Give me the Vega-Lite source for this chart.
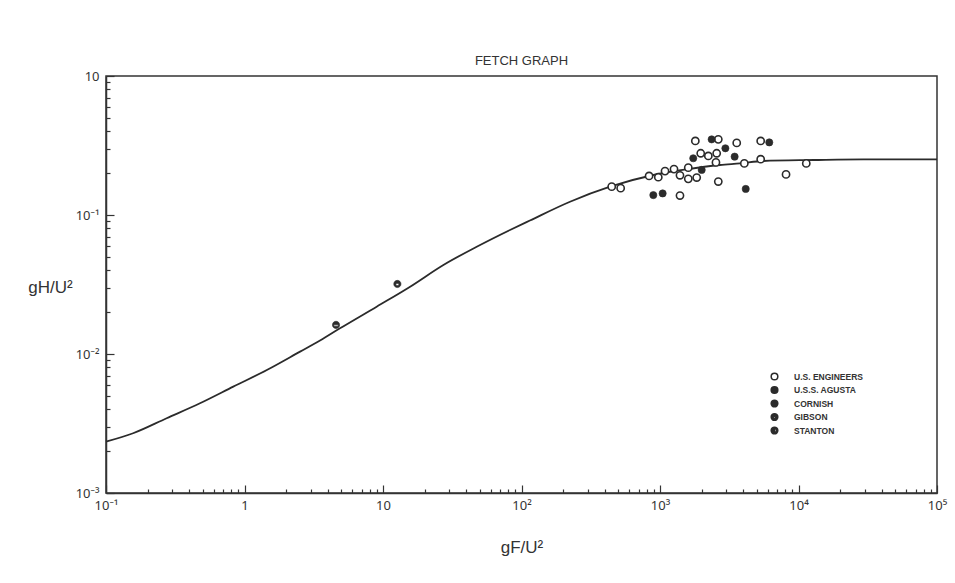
{
  "$schema": "https://vega.github.io/schema/vega-lite/v6.json",
  "width": 831,
  "height": 417,
  "autosize": {"type": "none"},
  "padding": {"left": 106, "top": 76, "right": 18, "bottom": 90},
  "background": "white",
  "title": {"text": "FETCH GRAPH", "fontSize": 13, "fontWeight": "normal", "font": "Liberation Sans", "color": "#333", "offset": 2},
  "config": {"view": {"stroke": "#333", "strokeWidth": 1.5}},
  "datasets": {
    "curve": [
      {"F": 0.1, "H": 0.00234},
      {"F": 0.157, "H": 0.00269},
      {"F": 0.274, "H": 0.00345},
      {"F": 0.477, "H": 0.00442},
      {"F": 0.83, "H": 0.00582},
      {"F": 1.45, "H": 0.00767},
      {"F": 2.52, "H": 0.0104},
      {"F": 3.51, "H": 0.0125},
      {"F": 4.89, "H": 0.0153},
      {"F": 9.0, "H": 0.0219},
      {"F": 15.7, "H": 0.0305},
      {"F": 27.3, "H": 0.0437},
      {"F": 47.5, "H": 0.0591},
      {"F": 82.6, "H": 0.078},
      {"F": 115, "H": 0.0913},
      {"F": 224, "H": 0.1246},
      {"F": 436, "H": 0.1598},
      {"F": 895, "H": 0.194},
      {"F": 1559, "H": 0.2132},
      {"F": 2712, "H": 0.2289},
      {"F": 3781, "H": 0.2354},
      {"F": 5569, "H": 0.2446},
      {"F": 12790, "H": 0.2487},
      {"F": 29380, "H": 0.2516},
      {"F": 100000, "H": 0.2516}
    ],
    "obs": [
      {"F": 448, "H": 0.16, "src": "U.S. ENGINEERS"},
      {"F": 520, "H": 0.156, "src": "U.S. ENGINEERS"},
      {"F": 834, "H": 0.191, "src": "U.S. ENGINEERS"},
      {"F": 972, "H": 0.187, "src": "U.S. ENGINEERS"},
      {"F": 1087, "H": 0.207, "src": "U.S. ENGINEERS"},
      {"F": 1262, "H": 0.214, "src": "U.S. ENGINEERS"},
      {"F": 1394, "H": 0.193, "src": "U.S. ENGINEERS"},
      {"F": 1600, "H": 0.219, "src": "U.S. ENGINEERS"},
      {"F": 1600, "H": 0.182, "src": "U.S. ENGINEERS"},
      {"F": 1841, "H": 0.186, "src": "U.S. ENGINEERS"},
      {"F": 1394, "H": 0.138, "src": "U.S. ENGINEERS"},
      {"F": 1799, "H": 0.341, "src": "U.S. ENGINEERS"},
      {"F": 1968, "H": 0.278, "src": "U.S. ENGINEERS"},
      {"F": 2233, "H": 0.266, "src": "U.S. ENGINEERS"},
      {"F": 2566, "H": 0.278, "src": "U.S. ENGINEERS"},
      {"F": 2636, "H": 0.35, "src": "U.S. ENGINEERS"},
      {"F": 2535, "H": 0.239, "src": "U.S. ENGINEERS"},
      {"F": 2636, "H": 0.174, "src": "U.S. ENGINEERS"},
      {"F": 3581, "H": 0.33, "src": "U.S. ENGINEERS"},
      {"F": 4063, "H": 0.235, "src": "U.S. ENGINEERS"},
      {"F": 5333, "H": 0.341, "src": "U.S. ENGINEERS"},
      {"F": 5333, "H": 0.252, "src": "U.S. ENGINEERS"},
      {"F": 8128, "H": 0.196, "src": "U.S. ENGINEERS"},
      {"F": 11380, "H": 0.235, "src": "U.S. ENGINEERS"},
      {"F": 895, "H": 0.139, "src": "U.S.S. AGUSTA"},
      {"F": 1045, "H": 0.143, "src": "U.S.S. AGUSTA"},
      {"F": 1738, "H": 0.256, "src": "U.S.S. AGUSTA"},
      {"F": 2000, "H": 0.211, "src": "U.S.S. AGUSTA"},
      {"F": 2360, "H": 0.35, "src": "U.S.S. AGUSTA"},
      {"F": 2965, "H": 0.302, "src": "U.S.S. AGUSTA"},
      {"F": 3459, "H": 0.263, "src": "U.S.S. AGUSTA"},
      {"F": 4159, "H": 0.154, "src": "U.S.S. AGUSTA"},
      {"F": 6152, "H": 0.333, "src": "U.S.S. AGUSTA"},
      {"F": 4.58, "H": 0.0162, "src": "CORNISH"},
      {"F": 12.7, "H": 0.0319, "src": "GIBSON"}
    ]
  },
  "encoding": {
    "x": {
      "field": "F", "type": "quantitative",
      "scale": {"type": "log", "domain": [0.1, 100000], "nice": false},
      "axis": {
        "title": "gF/U²",
        "values": [0.1,0.2,0.3,0.4,0.5,0.6,0.7,0.8,0.9,1,2,3,4,5,6,7,8,9,10,20,30,40,50,60,70,80,90,100,200,300,400,500,600,700,800,900,1000,2000,3000,4000,5000,6000,7000,8000,9000,10000,20000,30000,40000,50000,60000,70000,80000,90000,100000],
        "labelExpr": "datum.value==0.1?'10⁻¹':datum.value==1?'1':datum.value==10?'10':datum.value==100?'10²':datum.value==1000?'10³':datum.value==10000?'10⁴':datum.value==100000?'10⁵':''",
        "tickSize": {"condition": {"test": "indexof([0.1,1,10,100,1000,10000,100000], datum.value) >= 0", "value": -8}, "value": -4},
        "tickColor": "#333", "tickWidth": 1.2,
        "domainColor": "#333", "domainWidth": 1.5,
        "grid": false,
        "labelPadding": 14,
        "labelOverlap": false, "labelFlush": false,
        "labelFont": "Noto Sans", "labelFontSize": 13, "labelColor": "#333",
        "titleFont": "Liberation Sans", "titleFontSize": 17, "titleFontWeight": "normal", "titleColor": "#333",
        "titleY": 54, "titleBaseline": "middle"
      }
    },
    "y": {
      "field": "H", "type": "quantitative",
      "scale": {"type": "log", "domain": [0.001, 1], "nice": false},
      "axis": {
        "title": "gH/U²",
        "values": [0.001,0.002,0.003,0.004,0.005,0.006,0.007,0.008,0.009,0.01,0.02,0.03,0.04,0.05,0.06,0.07,0.08,0.09,0.1,0.2,0.3,0.4,0.5,0.6,0.7,0.8,0.9,1],
        "labelExpr": "datum.value==1?'10':datum.value==0.1?'10⁻¹':datum.value==0.01?'10⁻²':datum.value==0.001?'10⁻³':''",
        "tickSize": {"condition": {"test": "indexof([0.001,0.01,0.1,1], datum.value) >= 0", "value": -8}, "value": -4},
        "tickColor": "#333", "tickWidth": 1.2,
        "domainColor": "#333", "domainWidth": 1.5,
        "grid": false,
        "labelPadding": 15,
        "labelOverlap": false, "labelFlush": false,
        "labelFont": "Noto Sans", "labelFontSize": 13, "labelColor": "#333",
        "titleFont": "Liberation Sans", "titleFontSize": 17, "titleFontWeight": "normal", "titleColor": "#333",
        "titleAngle": 0, "titleX": -56, "titleY": 211, "titleAlign": "center", "titleBaseline": "middle"
      }
    }
  },
  "layer": [
    {
      "data": {"name": "curve"},
      "mark": {"type": "line", "color": "#2b2b2b", "strokeWidth": 1.8, "interpolate": "monotone"},
      "encoding": {}
    },
    {
      "data": {"name": "obs"},
      "mark": {"type": "point", "filled": false, "size": 52, "opacity": 1, "stroke": "#2b2b2b"},
      "encoding": {
        "strokeWidth": {"condition": {"test": "datum.src=='U.S. ENGINEERS'", "value": 1.6}, "value": 0.6},
        "shape": {
          "field": "src", "type": "nominal",
          "scale": {
            "domain": ["U.S. ENGINEERS", "U.S.S. AGUSTA", "CORNISH", "GIBSON", "STANTON"],
            "range": [
              "circle",
              "circle",
              "M-1,0 A1,1 0 1,1 1,0 A1,1 0 1,1 -1,0 Z M-0.62,-0.02 L-0.62,0.36 L0.62,0.36 L0.62,-0.02 Z",
              "M-1,0 A1,1 0 1,1 1,0 A1,1 0 1,1 -1,0 Z M-0.42,0.15 A0.42,0.28 0 1,0 0.42,0.15 A0.42,0.28 0 1,0 -0.42,0.15 Z",
              "M-1,0 A1,1 0 1,1 1,0 A1,1 0 1,1 -1,0 Z M0,-0.62 L0,0.62 A0.62,0.62 0 0,0 0,-0.62 Z"
            ]
          },
          "legend": {
            "title": null, "orient": "none", "legendX": 664, "legendY": 296,
            "labelFont": "Liberation Sans", "labelFontSize": 8.5, "labelFontWeight": "bold", "labelColor": "#333",
            "symbolSize": 44,
            "rowPadding": 0.5, "labelOffset": 15,
            "encode": {
              "symbols": {
                "update": {
                  "fill": {"scale": "fill", "field": "value"},
                  "stroke": {"value": "#2b2b2b"},
                  "strokeWidth": [{"test": "datum.value=='U.S. ENGINEERS'", "value": 1.4}, {"value": 0.25}],
                  "opacity": {"value": 1},
                  "shape": [
                    {"test": "datum.value=='CORNISH'", "value": "M-1,0 A1,1 0 1,1 1,0 A1,1 0 1,1 -1,0 Z M-0.8,-0.15 L-0.8,0.5 L0.8,0.5 L0.8,-0.15 Z"},
                    {"test": "datum.value=='GIBSON'", "value": "M-1,0 A1,1 0 1,1 1,0 A1,1 0 1,1 -1,0 Z M-0.58,0.2 A0.58,0.45 0 1,0 0.58,0.2 A0.58,0.45 0 1,0 -0.58,0.2 Z"},
                    {"test": "datum.value=='STANTON'", "value": "M-1,0 A1,1 0 1,1 1,0 A1,1 0 1,1 -1,0 Z M0,-0.72 L0,0.72 A0.72,0.72 0 0,0 0,-0.72 Z"},
                    {"value": "circle"}
                  ]
                }
              }
            }
          }
        },
        "fill": {
          "field": "src", "type": "nominal",
          "scale": {
            "domain": ["U.S. ENGINEERS", "U.S.S. AGUSTA", "CORNISH", "GIBSON", "STANTON"],
            "range": ["white", "#2b2b2b", "#2b2b2b", "#2b2b2b", "#2b2b2b"]
          },
          "legend": null
        }
      }
    }
  ]
}
